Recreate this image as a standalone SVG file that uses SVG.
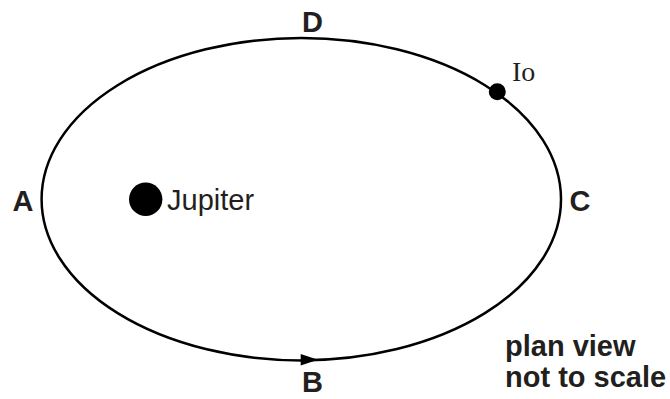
<svg xmlns="http://www.w3.org/2000/svg" width="670" height="399" viewBox="0 0 670 399">
<defs>
<style>
.lbl{font-family:"Liberation Sans",Arial,sans-serif;font-weight:bold;font-size:29px;fill:#231f20}
.reg{font-family:"Liberation Sans",Arial,sans-serif;font-size:29px;fill:#231f20}
.ser{font-family:"Liberation Serif","Times New Roman",serif;font-size:28px;fill:#231f20}
.orbit{fill:none;stroke:#000;stroke-width:2.5}
</style>
</defs>
<rect width="670" height="399" fill="#fff"/>
<g id="connectors">
<ellipse id="orbit" class="orbit" cx="301.3" cy="199.2" rx="259.7" ry="161.2"/>
<path id="arrow" d="M300.7,354 L318,359.8 L300.7,365.5 Z" fill="#000"/>
</g>
<g id="jupiter">
<circle cx="145.7" cy="199.3" r="16.7" fill="#000"/>
<text class="reg" x="167" y="210">Jupiter</text>
</g>
<g id="io">
<circle cx="497.3" cy="91.7" r="8.5" fill="#000"/>
<text class="ser" x="512" y="81">Io</text>
</g>
<g id="label-a"><text class="lbl" x="12.5" y="211">A</text></g>
<g id="label-b"><text class="lbl" x="302" y="392">B</text></g>
<g id="label-c"><text class="lbl" x="569.5" y="211">C</text></g>
<g id="label-d"><text class="lbl" x="302" y="32">D</text></g>
<g id="note">
<text class="lbl" x="505" y="356">plan view</text>
<text class="lbl" x="505" y="387">not to scale</text>
</g>
</svg>
